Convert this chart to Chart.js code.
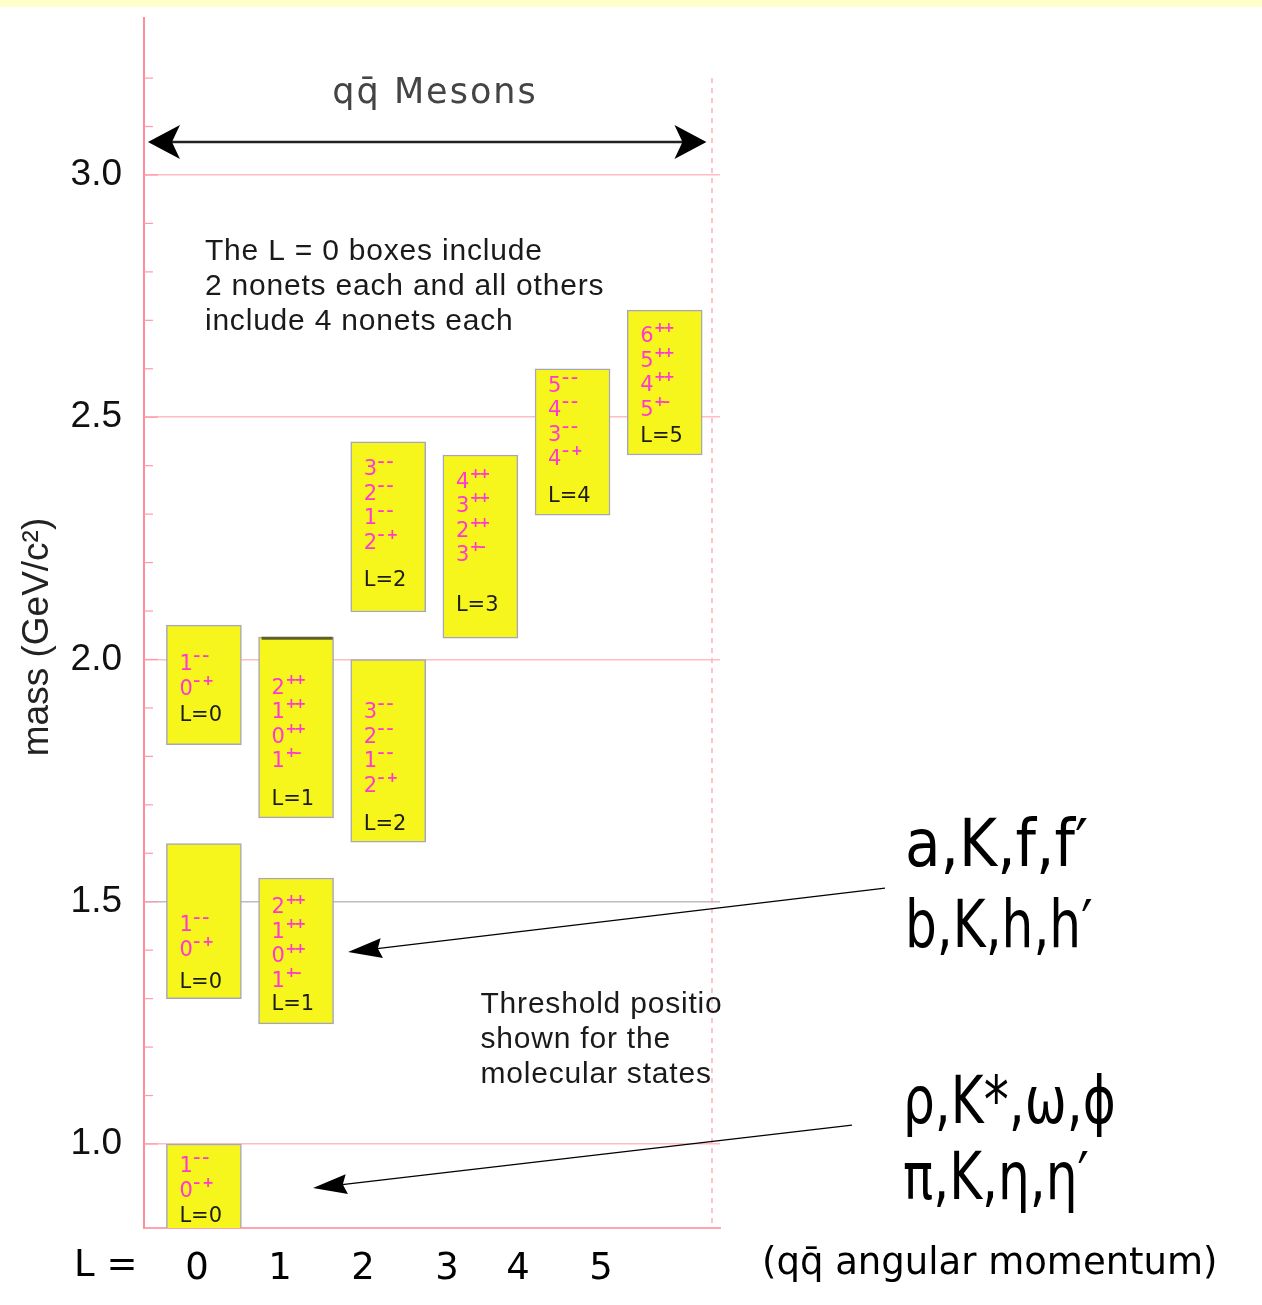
<!DOCTYPE html>
<html>
<head>
<meta charset="utf-8">
<script src="https://cdn.jsdelivr.net/npm/chart.js@4.4.1/dist/chart.umd.min.js"></script>
<style>
html,body{margin:0;padding:0;background:#fff;overflow:hidden;}
#wrap{position:relative;width:1262px;height:1305px;}
</style>
</head>
<body>
<div id="wrap"><canvas id="c"></canvas></div>
<script>
// ---- boxes (one per group of nonets) ----
const boxL    = [0, 0, 0, 1, 1, 2, 2, 3, 4, 5];
const boxLow  = [0.80, 1.30, 1.824, 1.248, 1.673, 1.623, 2.098, 2.044, 2.298, 2.422];
const boxHigh = [1.00, 1.62, 2.071, 1.549, 2.046, 2.000, 2.449, 2.422, 2.600, 2.721];
const boxJpc  = [
  ['1--','0-+'], ['1--','0-+'], ['1--','0-+'],
  ['2++','1++','0++','1+-'], ['2++','1++','0++','1+-'],
  ['3--','2--','1--','2-+'], ['3--','2--','1--','2-+'],
  ['4++','3++','2++','3+-'],
  ['5--','4--','3--','4-+'],
  ['6++','5++','4++','5+-']
];
// where the text sits inside each box (mass)
const jpcStart = [0.953, 1.450, 1.989, 1.487, 1.941, 1.890, 2.391, 2.366, 2.564, 2.666];
const tagAt    = [0.851, 1.334, 1.885, 1.287, 1.710, 1.660, 2.162, 2.112, 2.337, 2.461];
const darkTop  = [4];   // box drawn with a darker upper edge

// ---- axes ----
const lTicks  = [-0.075, 0.826, 1.726, 2.638, 3.408, 4.309];
const lLabels = ['0', '1', '2', '3', '4', '5'];
const yMin = 0.8266, yMax = 3.324;
const xMin = -0.65, xMax = 5.6;

// ---- notes ----
const noteTop    = ['The L = 0 boxes include', '2 nonets each and all others', 'include 4 nonets each'];
const noteThresh = ['Threshold position', 'shown for the', 'molecular states'];
const groupHigh  = ['a,K,f,f\u2032', 'b,K,h,h\u2032'];
const groupLow   = ['\u03c1,K*,\u03c9,\u03d5', '\u03c0,K,\u03b7,\u03b7\u2032'];

const isMajor = v => Math.abs(v*2 - Math.round(v*2)) < 1e-6 && v > 0.99 && v < 3.01;

function drawJpc(ctx, s, x, y){
  ctx.fillStyle = '#ff38d4';
  ctx.textBaseline = 'middle';
  ctx.font = '21px "DejaVu Sans"';
  ctx.fillText(s[0], x, y);
  let sx = x + ctx.measureText(s[0]).width + 0.5;
  ctx.font = 'bold 14px "DejaVu Sans"';
  for (const c of s.slice(1)){
    ctx.fillText(c === '-' ? '\u2013' : '+', sx, y - 8);
    sx += 9;
  }
}

function arrowHead(ctx, tx, ty, ang, len, half, notch){
  const ca = Math.cos(ang), sa = Math.sin(ang);
  const p = (a, b) => [tx + a*ca - b*sa, ty + a*sa + b*ca];
  const b1 = p(len, -half), b2 = p(len, half), n = p(len - notch, 0);
  ctx.beginPath();
  ctx.moveTo(tx, ty); ctx.lineTo(b1[0], b1[1]); ctx.lineTo(n[0], n[1]); ctx.lineTo(b2[0], b2[1]);
  ctx.closePath(); ctx.fill();
}

function pointer(ctx, x1, y1, x2, y2){
  ctx.strokeStyle = '#000'; ctx.fillStyle = '#000'; ctx.lineWidth = 1.3;
  const ang = Math.atan2(y1 - y2, x1 - x2);
  ctx.beginPath(); ctx.moveTo(x1, y1);
  ctx.lineTo(x2 + 25*Math.cos(ang), y2 + 25*Math.sin(ang)); ctx.stroke();
  arrowHead(ctx, x2, y2, ang, 34, 10, 4);
}

const deco = {
  id: 'deco',
  beforeDraw(chart){
    const ctx = chart.ctx;
    ctx.save();
    ctx.fillStyle = '#ffffcc';
    ctx.fillRect(0, 0, chart.width, 7);
    ctx.restore();
  },
  beforeDatasetsDraw(chart){
    const {ctx, chartArea: a, scales: {x, y}} = chart;
    ctx.save();
    // right dashed boundary
    ctx.strokeStyle = '#ffb0ba'; ctx.lineWidth = 1.5; ctx.setLineDash([5, 5]);
    const dx = x.getPixelForValue(5.513);
    ctx.beginPath(); ctx.moveTo(dx, y.getPixelForValue(3.2)); ctx.lineTo(dx, a.bottom); ctx.stroke();
    ctx.setLineDash([]);
    // minor ticks on the mass axis
    ctx.strokeStyle = '#ff9aa6'; ctx.lineWidth = 1.2;
    y.ticks.forEach(t => {
      const v = t.value;
      if (v < 0.85 || v > 3.31) return;
      const py = y.getPixelForValue(v);
      ctx.beginPath(); ctx.moveTo(a.left, py); ctx.lineTo(a.left + (isMajor(v) ? 14 : 9), py); ctx.stroke();
    });
    ctx.restore();
  },
  afterDatasetsDraw(chart){
    const {ctx, chartArea: a, scales: {y}} = chart;
    const meta = chart.getDatasetMeta(0);
    ctx.save();
    ctx.beginPath(); ctx.rect(a.left, a.top, a.right - a.left, a.bottom - a.top); ctx.clip();
    meta.data.forEach((bar, i) => {
      if (darkTop.includes(i)){
        ctx.strokeStyle = '#5f5f2a'; ctx.lineWidth = 3;
        ctx.beginPath(); ctx.moveTo(bar.x - bar.width/2 + 3, bar.y + 1); ctx.lineTo(bar.x + bar.width/2 - 1, bar.y + 1); ctx.stroke();
      }
      const left = bar.x - bar.width/2 + 13;
      let yy = y.getPixelForValue(jpcStart[i]);
      boxJpc[i].forEach(s => { drawJpc(ctx, s, left, yy); yy += 24.5; });
      ctx.fillStyle = '#1c1c1c';
      ctx.font = '21px "DejaVu Sans"';
      ctx.textBaseline = 'middle';
      ctx.fillText('L=' + boxL[i], left, y.getPixelForValue(tagAt[i]));
    });
    ctx.restore();
  },
  afterDraw(chart){
    const {ctx, chartArea: a, scales: {x, y}} = chart;
    ctx.save();
    // mass axis title
    ctx.save();
    ctx.translate(38, 637); ctx.rotate(-Math.PI/2);
    ctx.fillStyle = '#222'; ctx.font = '37px "Liberation Sans"';
    ctx.textAlign = 'center'; ctx.textBaseline = 'middle';
    ctx.fillText('mass (GeV/c\u00b2)', 0, 0);
    ctx.restore();

    // title + double arrow
    ctx.fillStyle = '#444';
    ctx.font = '35px "DejaVu Sans"';
    ctx.letterSpacing = '2px';
    ctx.textAlign = 'center'; ctx.textBaseline = 'middle';
    ctx.fillText('qq\u0304 Mesons', x.getPixelForValue(2.508), y.getPixelForValue(3.168));
    ctx.letterSpacing = '0px';
    const ay = y.getPixelForValue(3.068);
    const ax1 = x.getPixelForValue(-0.607), ax2 = x.getPixelForValue(5.453);
    ctx.strokeStyle = '#222'; ctx.fillStyle = '#000'; ctx.lineWidth = 2.5;
    ctx.beginPath(); ctx.moveTo(ax1 + 20, ay); ctx.lineTo(ax2 - 20, ay); ctx.stroke();
    arrowHead(ctx, ax1, ay, 0, 32, 17, 8);
    arrowHead(ctx, ax2, ay, Math.PI, 32, 17, 8);

    // notes
    ctx.textAlign = 'left';
    ctx.fillStyle = '#1a1a1a';
    ctx.font = '30px "Liberation Sans"';
    ctx.letterSpacing = '0.8px';
    noteTop.forEach((s, i) => ctx.fillText(s, x.getPixelForValue(0.011), y.getPixelForValue(2.842) + i*35));
    ctx.save();
    ctx.beginPath(); ctx.rect(0, 0, a.right + 1, chart.height); ctx.clip();
    noteThresh.forEach((s, i) => ctx.fillText(s, x.getPixelForValue(3.001), y.getPixelForValue(1.288) + i*35));
    ctx.restore();
    ctx.letterSpacing = '0px';

    // particle names on the right
    ctx.fillStyle = '#000';
    ctx.textBaseline = 'alphabetic';
    const big = (s, px, py, sc) => {
      ctx.save(); ctx.translate(px, py); ctx.scale(sc, 1);
      ctx.font = '66px "DejaVu Sans"'; ctx.fillText(s, 0, 0); ctx.restore();
    };
    big(groupHigh[0], 905, 866, 0.88);
    big(groupHigh[1], 905, 947, 0.76);
    big(groupLow[0], 903, 1123, 0.76);
    big(groupLow[1], 903, 1199, 0.76);

    pointer(ctx, x.getPixelForValue(7.39), y.getPixelForValue(1.528), x.getPixelForValue(1.564), y.getPixelForValue(1.396));
    pointer(ctx, x.getPixelForValue(7.032), y.getPixelForValue(1.039), x.getPixelForValue(1.184), y.getPixelForValue(0.909));

    // bottom captions
    ctx.font = '37px "DejaVu Sans"';
    ctx.textBaseline = 'middle';
    ctx.fillText('L =', 74, 1266);
    ctx.fillText('(qq\u0304 angular momentum)', 762, 1264);
    ctx.restore();
  }
};

new Chart(document.getElementById('c'), {
  type: 'bar',
  data: {
    datasets: [{
      data: boxL.map((l, i) => ({x: l, y: [boxLow[i], boxHigh[i]]})),
      backgroundColor: '#f6f61c',
      borderColor: '#a6a6bb',
      borderWidth: 1.5,
      borderSkipped: false,
      barThickness: 75
    }]
  },
  options: {
    responsive: true,
    maintainAspectRatio: false,
    animation: false,
    events: [],
    layout: {padding: {top: 18, right: 542, bottom: 0, left: 0}},
    plugins: {legend: {display: false}, tooltip: {enabled: false}},
    scales: {
      x: {
        type: 'linear', min: xMin, max: xMax, offset: false,
        afterFit: s => { s.height = 77; s.paddingLeft = 0; s.paddingRight = 0; },
        afterBuildTicks: s => { s.ticks = lTicks.map(v => ({value: v})); },
        ticks: {
          autoSkip: false, maxRotation: 0, padding: 19,
          color: '#000', font: {family: 'DejaVu Sans', size: 37},
          callback: (v, i) => lLabels[i]
        },
        grid: {color: 'rgba(0,0,0,0)', drawTicks: false},
        border: {display: true, color: '#ffa3ae', width: 2}
      },
      y: {
        type: 'linear', min: yMin, max: yMax,
        afterFit: s => { s.width = 144; s.paddingTop = 0; s.paddingBottom = 0; },
        ticks: {
          stepSize: 0.1, autoSkip: false, padding: 22,
          color: '#111', font: {family: 'Liberation Sans', size: 37},
          callback: v => isMajor(v) ? v.toFixed(1) : ''
        },
        grid: {
          drawTicks: false, lineWidth: 1.5,
          color: c => isMajor(c.tick.value) ? (Math.abs(c.tick.value - 1.5) < 1e-6 ? '#bcbcc4' : '#ffbcc4') : 'rgba(0,0,0,0)'
        },
        border: {display: true, color: '#ff8e9c', width: 2},
        title: {display: false}
      }
    }
  },
  plugins: [deco]
});
</script>
</body>
</html>
